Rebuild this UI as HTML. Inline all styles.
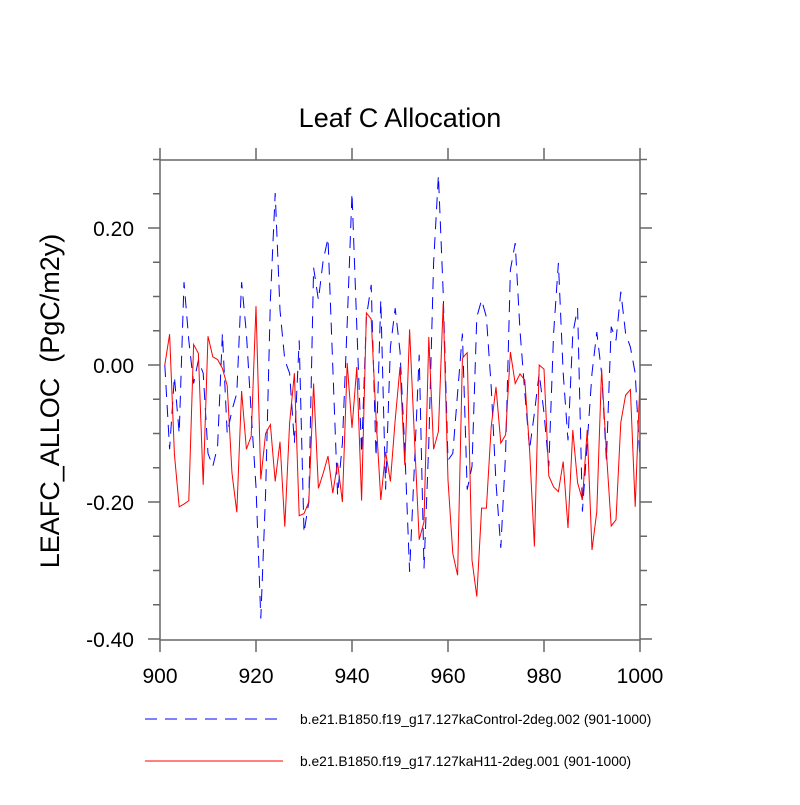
<!DOCTYPE html>
<html><head><meta charset="utf-8"><style>
body{margin:0;background:#fff}
svg text{font-family:"Liberation Sans",sans-serif;fill:#000}
</style></head><body>
<svg id="chart" width="800" height="800" xmlns="http://www.w3.org/2000/svg">
<rect width="800" height="800" fill="#fff"/>
<text x="400" y="127" font-size="27" text-anchor="middle">Leaf C Allocation</text>
<text transform="translate(59,401) rotate(-90)" font-size="27" text-anchor="middle" style="white-space:pre">LEAFC_ALLOC  (PgC/m2y)</text>
<g id="ticks"></g>
<g id="series"></g>
<rect x="160" y="160" width="480" height="480" fill="none" stroke="#666" stroke-width="1.5"/>
<g id="legend"></g>
</svg>
<script>
const years=[];for(let y=901;y<=1000;y++)years.push(y);
const controlValues=[0.0,-0.123,-0.017,-0.1,0.121,0.036,-0.027,0.007,-0.012,-0.129,-0.148,-0.119,0.046,-0.1,-0.066,-0.041,0.121,0.046,-0.07,-0.178,-0.37,-0.187,0.095,0.251,0.08,0.007,-0.012,-0.114,0.036,-0.245,-0.2,0.142,0.095,0.153,0.185,-0.003,-0.19,-0.114,0.061,0.251,0.056,-0.129,0.07,0.117,-0.134,0.095,-0.182,0.026,0.083,0.02,-0.123,-0.302,-0.147,0.015,-0.297,-0.114,0.149,0.277,0.105,-0.139,-0.129,-0.041,0.046,-0.182,-0.148,0.07,0.095,0.07,-0.032,-0.172,-0.267,-0.129,0.139,0.178,0.05,-0.04,-0.123,-0.07,-0.012,-0.07,-0.148,0.046,0.149,-0.012,-0.11,0.046,0.083,-0.214,-0.114,-0.012,0.048,-0.012,-0.139,0.056,0.036,0.107,0.046,0.026,-0.012,-0.14];
const h11Values=[0.0,0.045,-0.13,-0.207,-0.203,-0.198,0.03,0.017,-0.175,0.042,0.012,0.008,-0.005,-0.03,-0.158,-0.215,-0.038,-0.123,-0.104,0.086,-0.167,-0.1,-0.087,-0.17,-0.112,-0.236,-0.085,-0.012,-0.22,-0.217,-0.2,-0.027,-0.18,-0.158,-0.133,-0.187,-0.143,-0.2,0.003,-0.092,-0.003,-0.198,0.076,0.067,-0.076,-0.197,-0.127,-0.17,-0.08,-0.003,-0.146,0.052,-0.105,-0.255,-0.229,0.041,-0.123,-0.097,0.09,-0.168,-0.275,-0.307,0.01,0.018,-0.285,-0.338,-0.209,-0.209,-0.09,-0.032,-0.114,-0.102,0.019,-0.027,-0.013,-0.022,-0.124,-0.265,0.0,-0.006,-0.162,-0.178,-0.185,-0.141,-0.238,-0.095,-0.172,-0.197,-0.095,-0.27,-0.214,-0.006,-0.127,-0.235,-0.226,-0.084,-0.044,-0.036,-0.207,-0.02];
const xTicks=[900,920,940,960,980,1000];
const yTicks=[0.2,0.0,-0.2,-0.4];
const yTickLabels=["0.20","0.00","-0.20","-0.40"];
const seriesNames=["b.e21.B1850.f19_g17.127kaControl-2deg.002 (901-1000)","b.e21.B1850.f19_g17.127kaH11-2deg.001 (901-1000)"];
const NS="http://www.w3.org/2000/svg";
const X=v=>160+(v-900)*4.8;
const Y=v=>365-v*685;
function mk(t,a,p){const e=document.createElementNS(NS,t);for(const k in a)e.setAttribute(k,a[k]);p.appendChild(e);return e;}
const tk=document.getElementById('ticks');
xTicks.forEach(v=>{
  const g=mk('g',{},tk);
  
  
  mk('line',{x1:X(v),x2:X(v),y1:640,y2:652,stroke:'#666','stroke-width':1.5},g);
  mk('line',{x1:X(v),x2:X(v),y1:148,y2:160,stroke:'#666','stroke-width':1.5},g);
  const t=mk('text',{x:X(v),y:683,'font-size':21,'text-anchor':'middle'},g);t.textContent=v;
});
for(let v=-0.4;v<=0.3001;v+=0.05){
  const r=Math.round(v*100)/100;const major=Math.abs(r*10-Math.round(r*10))<1e-6&&Math.round(r*10)%2===0;
  const len=major?12:7;
  const g=mk('g',{},tk);
  
  
  mk('line',{x1:160-len,x2:160,y1:Y(r),y2:Y(r),stroke:'#666','stroke-width':1.5},g);
  mk('line',{x1:640,x2:640+len,y1:Y(r),y2:Y(r),stroke:'#666','stroke-width':1.5},g);
}
yTicks.forEach((v,i)=>{
  const t=mk('text',{x:134,y:Y(v)+8,'font-size':21,'text-anchor':'end'},tk);
  
  
  t.textContent=yTickLabels[i];
});
const sg=document.getElementById('series');
const pc=mk('polyline',{points:years.map((y,i)=>X(y)+','+Y(controlValues[i])).join(' '),fill:'none',stroke:'#0000ff','stroke-width':1,'stroke-dasharray':'12,8'},sg);


const ph=mk('polyline',{points:years.map((y,i)=>X(y)+','+Y(h11Values[i])).join(' '),fill:'none',stroke:'#ff0000','stroke-width':1},sg);


const lg=document.getElementById('legend');
[[719,'12,8','#0000ff'],[761,'none','#ff0000']].forEach((d,i)=>{
  const g=mk('g',{},lg);
  
  
  mk('line',{x1:145,x2:283,y1:d[0],y2:d[0],stroke:d[2],'stroke-width':1,'stroke-dasharray':d[1]},g);
  const t=mk('text',{x:300,y:d[0]+5,'font-size':13.8},g);t.textContent=seriesNames[i];
});
</script>
</body></html>
